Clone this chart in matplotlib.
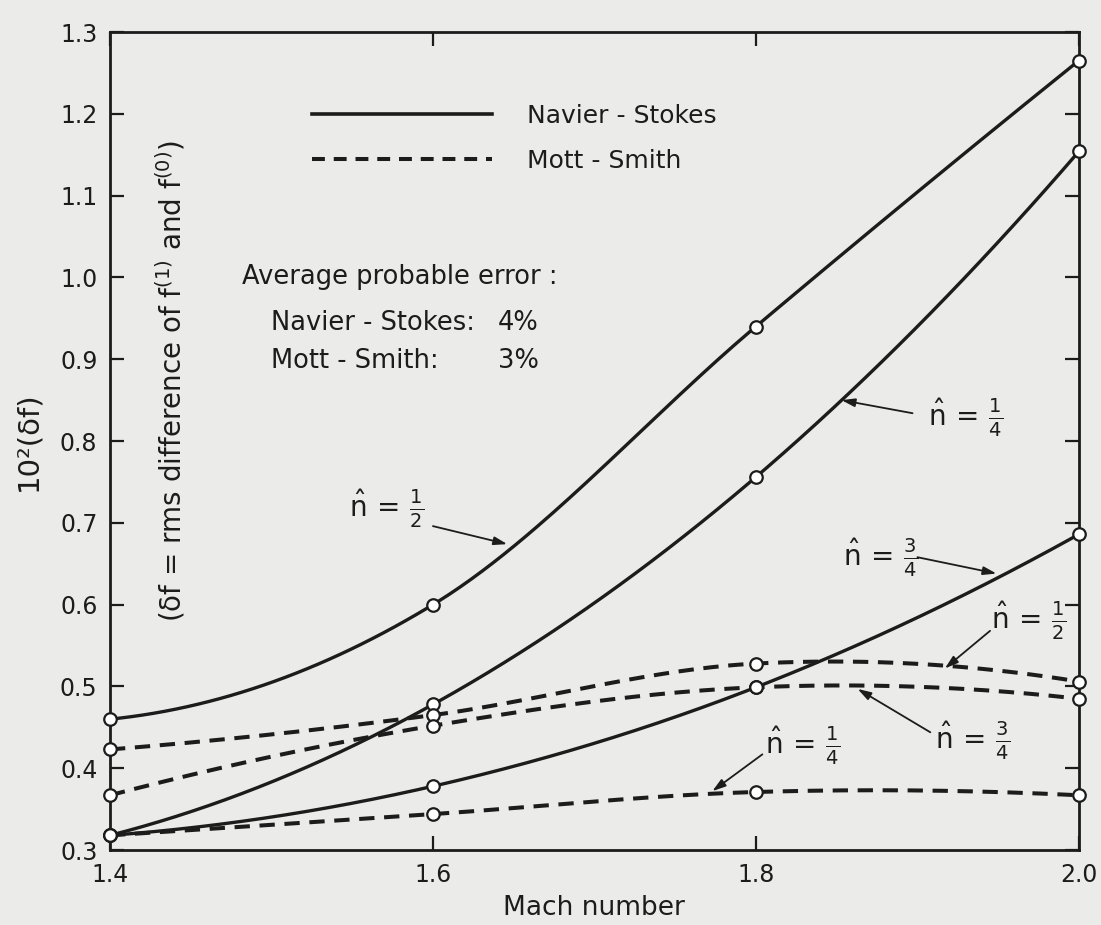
import numpy as np
import matplotlib.pyplot as plt
from matplotlib.lines import Line2D

# Mach numbers where the distributions were evaluated
mach = np.array([1.4, 1.6, 1.8, 2.0])

# 10^2 (delta f), Navier-Stokes (solid)
ns_half = [0.46, 0.60, 0.94, 1.265]
ns_quarter = [0.318, 0.478, 0.756, 1.154]
ns_three = [0.318, 0.378, 0.499, 0.686]

# 10^2 (delta f), Mott-Smith (dashed)
ms_half = [0.423, 0.465, 0.528, 0.506]
ms_three = [0.367, 0.452, 0.499, 0.485]
ms_quarter = [0.318, 0.344, 0.371, 0.367]

x_ticks = [1.4, 1.6, 1.8, 2.0]
y_ticks = np.round(np.arange(0.3, 1.31, 0.1), 1)

INK = '#1c1c1c'
PAPER = '#ebebe9'


def smooth(x, y, n=60):
    # Hermite curve through the measured points (drawing only):
    # interior slopes = mean of neighbouring secants, parabolic ends
    x = np.asarray(x, float)
    y = np.asarray(y, float)
    d = np.diff(y) / np.diff(x)
    m = np.empty_like(y)
    m[1:-1] = (d[:-1] + d[1:]) / 2
    m[0] = 2 * d[0] - m[1]
    m[-1] = 2 * d[-1] - m[-2]
    xs_all, ys_all = [], []
    for i in range(len(x) - 1):
        h = x[i + 1] - x[i]
        t = np.linspace(0, 1, n)
        h00 = 2 * t**3 - 3 * t**2 + 1
        h10 = t**3 - 2 * t**2 + t
        h01 = -2 * t**3 + 3 * t**2
        h11 = t**3 - t**2
        xs_all.append(x[i] + t * h)
        ys_all.append(h00 * y[i] + h10 * h * m[i] + h01 * y[i + 1] + h11 * h * m[i + 1])
    return np.concatenate(xs_all), np.concatenate(ys_all)


plt.rcParams['font.family'] = ['DejaVu Sans']
plt.rcParams['mathtext.fontset'] = 'dejavusans'

fig = plt.figure(figsize=(11.01, 9.25), dpi=100, facecolor=PAPER)
ax = fig.add_axes([0.0999, 0.081, 0.880, 0.8844], facecolor=PAPER)

dash = (3.8, 2.4)
for series in (ns_half, ns_quarter, ns_three):
    xs, ys = smooth(mach, series)
    ax.plot(xs, ys, color=INK, lw=2.4, solid_capstyle='butt')
for series in (ms_half, ms_three, ms_quarter):
    xs, ys = smooth(mach, series)
    ax.plot(xs, ys, color=INK, lw=2.9, dashes=dash, dash_capstyle='butt')

for series in (ns_half, ns_quarter, ns_three, ms_half, ms_three, ms_quarter):
    ax.plot(mach, series, ls='none', marker='o', ms=9, mfc='white',
            mec=INK, mew=1.6, clip_on=False, zorder=5)

ax.set_xlim(1.4, 2.0)
ax.set_ylim(0.3, 1.3)
ax.set_xticks(x_ticks)
ax.set_xticklabels([f'{v:.1f}' for v in x_ticks])
ax.set_yticks(y_ticks)
ax.set_yticklabels([f'{v:.1f}' for v in y_ticks])
ax.tick_params(direction='in', length=10, width=1.6, colors=INK,
               labelsize=17, pad=9, top=True, right=True)
for s in ax.spines.values():
    s.set_linewidth(2.0)
    s.set_color(INK)

ax.set_xlabel('Mach number', fontsize=19, color=INK, labelpad=6)
ax.text(-0.084, 0.5, '10²(δf)', transform=ax.transAxes, rotation=90,
        ha='center', va='center', fontsize=21, color=INK)
ax.text(0.063, 0.573, r'(δf = rms difference of f$^{(1)}$ and f$^{(0)}$)',
        transform=ax.transAxes, rotation=90, ha='center', va='center',
        fontsize=20, color=INK)

# legend
handles = [Line2D([], [], color=INK, lw=2.6),
           Line2D([], [], color=INK, lw=2.9, dashes=(3.2, 2.2))]
leg = ax.legend(handles, ['Navier - Stokes', 'Mott - Smith'], loc='upper left',
                bbox_to_anchor=(0.209, 0.912), frameon=False, fontsize=18,
                handlelength=7.2, handletextpad=1.4, labelspacing=0.85,
                borderpad=0, borderaxespad=0)
for t in leg.get_texts():
    t.set_color(INK)

# error note
ax.text(1.482, 1.0, 'Average probable error :', fontsize=18.5, color=INK, va='center')
ax.text(1.500, 0.944, 'Navier - Stokes:', fontsize=18.5, color=INK, va='center')
ax.text(1.640, 0.944, '4%', fontsize=18.5, color=INK, va='center')
ax.text(1.500, 0.898, 'Mott - Smith:', fontsize=18.5, color=INK, va='center')
ax.text(1.640, 0.898, '3%', fontsize=18.5, color=INK, va='center')

# curve labels with arrows: (text, label xy, arrow tail, arrow head)
labels = [
    (r'$\hat{\mathrm{n}}\,=\,\frac{1}{2}$', (1.571, 0.717), (1.600, 0.696), (1.646, 0.674)),
    (r'$\hat{\mathrm{n}}\,=\,\frac{1}{4}$', (1.930, 0.828), (1.897, 0.834), (1.853, 0.850)),
    (r'$\hat{\mathrm{n}}\,=\,\frac{3}{4}$', (1.877, 0.657), (1.900, 0.658), (1.949, 0.638)),
    (r'$\hat{\mathrm{n}}\,=\,\frac{1}{2}$', (1.969, 0.580), (1.945, 0.568), (1.917, 0.522)),
    (r'$\hat{\mathrm{n}}\,=\,\frac{3}{4}$', (1.934, 0.433), (1.908, 0.444), (1.863, 0.497)),
    (r'$\hat{\mathrm{n}}\,=\,\frac{1}{4}$', (1.829, 0.427), (1.804, 0.417), (1.773, 0.372)),
]
for txt, pos, tail, head in labels:
    ax.text(pos[0], pos[1], txt, fontsize=20, color=INK, ha='center', va='center')
    ax.annotate('', xy=head, xytext=tail,
                arrowprops=dict(arrowstyle='-|>,head_length=0.8,head_width=0.25',
                                color=INK, lw=1.3, shrinkA=0, shrinkB=0))

fig.savefig('out.png', dpi=100, facecolor=PAPER)
